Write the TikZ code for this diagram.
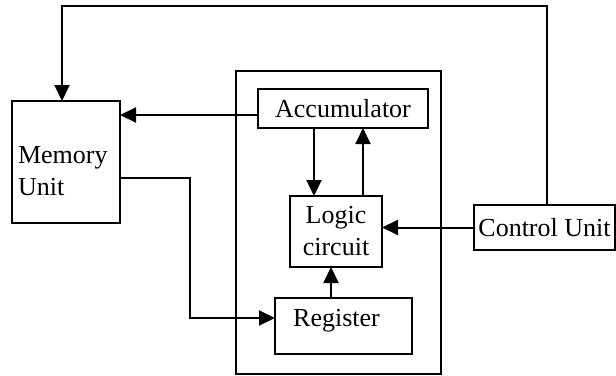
\documentclass[tikz,border=0pt]{standalone}
\usepackage{fontspec}
\setmainfont{Liberation Serif}
\usetikzlibrary{arrows.meta}

\begin{document}
\begin{tikzpicture}[
    x=1pt, y=-1pt,
    line width=2pt,
    unit/.style={rectangle, draw, inner sep=0pt, outer sep=0pt, font=\fontsize{26pt}{32pt}\selectfont},
    plain/.style={inner sep=0pt, font=\fontsize{26pt}{32pt}\selectfont},
    arr/.style={-{Triangle[length=16pt, width=15pt]}}
]
\useasboundingbox (0,0) rectangle (616,375);

% === UNITS ===
\node[unit, minimum width=108pt, minimum height=122pt] (mem) at (66, 162) {};
\node[plain, anchor=north west, align=left] (memtext) at (17, 145) {Memory\\Unit};

\node[unit, minimum width=205pt, minimum height=303pt] (cpu) at (338.5, 222.5) {};

\node[unit, minimum width=170pt, minimum height=39pt] (acc) at (343, 108.5) {Accumulator};
\node[unit, minimum width=92pt, minimum height=71pt, align=center] (logic) at (336, 231.5) {Logic\\circuit};
\node[unit, minimum width=137pt, minimum height=56pt] (reg) at (343.5, 326) {};
\node[plain] (regtext) at (336.5, 321) {Register};

\node[unit, minimum width=141pt, minimum height=45pt] (ctrl) at (544.5, 227.5) {Control Unit};

% === CONNECTORS ===
\coordinate (topline) at (0, 6);
\coordinate (bend) at (190, 250);

% Control unit back to memory
\draw[arr] ([xshift=2.5pt]ctrl.north) |- ([xshift=-4pt]mem.north |- topline) -- ([xshift=-4pt]mem.north);

% Accumulator to memory
\draw[arr] ([yshift=-6.5pt]acc.west) -- ([yshift=-6.5pt]acc.west -| mem.east);

% Accumulator <-> logic circuit
\draw[arr] ([xshift=-22pt]logic.north |- acc.south) -- ([xshift=-22pt]logic.north);
\draw[arr] ([xshift=27pt]logic.north) -- ([xshift=27pt]logic.north |- acc.south);

% Control unit to logic circuit
\draw[arr] (ctrl.west) -- (ctrl.west -| logic.east);

% Register to logic circuit
\draw[arr] ([xshift=-5pt]logic.south |- reg.north) -- ([xshift=-5pt]logic.south);

% Memory to register
\draw[arr] ([yshift=-16pt]mem.east) -| (bend) |- ([yshift=8pt]reg.west);

\end{tikzpicture}
\end{document}
